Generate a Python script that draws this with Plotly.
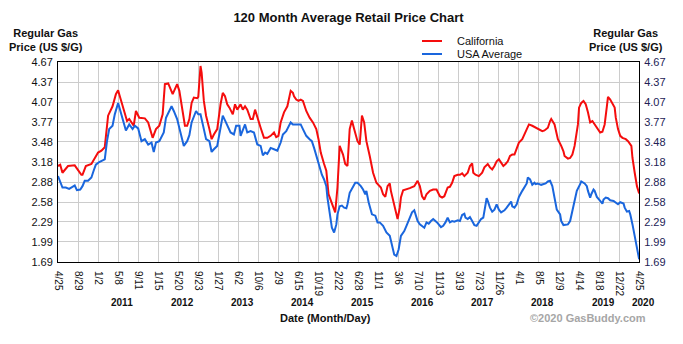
import numpy as np
import pandas as pd
import plotly.graph_objects as go

START = "2010-04-25"
END = "2020-04-25"

# weeks since 2010-04-25 and average regular gas price ($/gal)
ca_week = [0, 2, 4, 9, 15, 21, 22, 25, 30, 33, 36, 39, 42, 45, 47, 49, 52, 54, 55, 58, 60, 62, 64, 68, 70, 73, 78, 81, 85, 88, 91, 94, 96, 99, 103, 107, 109, 112, 114, 116, 118, 120, 122, 125, 126, 128, 129, 131, 133, 136, 138, 140, 143, 146, 148, 150, 152, 154, 157, 159, 161, 164, 166, 168, 170, 173, 175, 177, 179, 182, 185, 188, 191, 194, 196, 198, 200, 203, 206, 209, 211, 212, 214, 216, 218, 220, 223, 226, 229, 232, 234, 236, 239, 241, 243, 245, 247, 249, 251, 253, 256, 258, 260, 262, 264, 266, 269, 271, 273, 275, 277, 280, 283, 286, 288, 290, 292, 294, 296, 298, 299, 301, 303, 305, 307, 308, 310, 313, 316, 320, 323, 325, 327, 329, 331, 334, 337, 340, 343, 345, 347, 350, 352, 354, 356, 359, 361, 363, 365, 368, 370, 372, 373, 375, 378, 381, 383, 386, 388, 390, 392, 394, 396, 398, 400, 402, 404, 406, 408, 410, 412, 414, 417, 419, 421, 423, 426, 429, 432, 435, 437, 440, 442, 443, 446, 447, 449, 452, 454, 455, 458, 460, 462, 464, 467, 468, 470, 472, 474, 476, 478, 480, 482, 483, 485, 487, 489, 491, 493, 494, 496, 498, 500, 501, 503, 505, 507, 510, 512, 515, 516, 518, 519, 520, 522]
ca_price = [3.12, 3.14, 3.02, 3.12, 3.13, 2.99, 2.99, 3.12, 3.15, 3.24, 3.32, 3.35, 3.40, 3.87, 3.94, 4.01, 4.19, 4.25, 4.19, 4.01, 3.89, 3.79, 3.82, 3.72, 3.94, 3.84, 3.83, 3.77, 3.54, 3.67, 3.72, 3.89, 4.34, 4.35, 4.19, 4.34, 4.24, 3.89, 3.72, 3.72, 3.82, 4.06, 4.14, 4.13, 4.15, 4.61, 4.51, 4.09, 3.87, 3.67, 3.52, 3.59, 3.67, 4.04, 4.21, 4.16, 4.04, 3.99, 3.89, 4.04, 3.96, 4.04, 3.96, 4.01, 3.96, 3.82, 3.82, 3.96, 3.84, 3.69, 3.54, 3.54, 3.57, 3.62, 3.55, 3.57, 3.77, 3.92, 4.01, 4.24, 4.21, 4.16, 4.11, 4.09, 4.11, 4.09, 3.94, 3.84, 3.77, 3.67, 3.52, 3.32, 3.15, 3.05, 2.70, 2.62, 2.52, 2.43, 2.80, 3.42, 3.29, 3.15, 3.12, 3.67, 3.80, 3.67, 3.49, 3.44, 3.87, 3.77, 3.49, 3.27, 3.02, 2.87, 2.84, 2.80, 2.70, 2.66, 2.82, 2.86, 2.75, 2.60, 2.45, 2.33, 2.50, 2.65, 2.76, 2.77, 2.79, 2.82, 2.90, 2.82, 2.67, 2.62, 2.70, 2.75, 2.77, 2.77, 2.67, 2.65, 2.67, 2.80, 2.81, 2.87, 2.97, 2.99, 2.99, 3.01, 2.97, 3.02, 3.12, 3.16, 3.02, 2.99, 2.97, 3.02, 3.10, 3.15, 3.10, 3.07, 3.12, 3.19, 3.22, 3.17, 3.12, 3.15, 3.19, 3.27, 3.29, 3.29, 3.39, 3.47, 3.52, 3.59, 3.67, 3.74, 3.72, 3.69, 3.67, 3.64, 3.65, 3.69, 3.79, 3.82, 3.74, 3.67, 3.52, 3.42, 3.34, 3.27, 3.23, 3.24, 3.29, 3.42, 3.74, 3.99, 4.06, 4.09, 4.04, 3.92, 3.77, 3.79, 3.74, 3.72, 3.67, 3.62, 3.63, 3.74, 4.01, 4.15, 4.11, 4.04, 3.99, 3.84, 3.67, 3.57, 3.54, 3.52, 3.49, 3.42, 3.24, 3.02, 2.92, 2.82, 2.71]

usa_week = [0, 1, 4, 7, 10, 13, 15, 17, 20, 22, 24, 27, 30, 32, 34, 37, 42, 44, 46, 49, 51, 54, 57, 61, 64, 67, 69, 72, 75, 78, 81, 84, 86, 88, 91, 95, 97, 102, 104, 107, 110, 113, 116, 118, 120, 122, 124, 126, 128, 131, 133, 136, 138, 140, 143, 146, 148, 150, 152, 155, 158, 160, 163, 164, 168, 170, 173, 176, 179, 182, 184, 186, 188, 191, 194, 197, 200, 202, 205, 209, 211, 214, 217, 218, 220, 223, 226, 228, 230, 232, 235, 237, 239, 241, 242, 244, 246, 248, 250, 251, 253, 255, 257, 259, 260, 262, 265, 267, 269, 272, 274, 276, 277, 279, 282, 285, 287, 289, 292, 295, 298, 300, 302, 304, 306, 308, 311, 313, 316, 318, 320, 321, 323, 325, 327, 329, 331, 333, 335, 337, 339, 341, 344, 346, 348, 350, 352, 354, 356, 359, 361, 363, 365, 366, 368, 370, 372, 374, 376, 378, 380, 382, 384, 385, 386, 388, 390, 392, 394, 396, 398, 401, 403, 405, 407, 408, 410, 412, 414, 417, 419, 421, 422, 424, 426, 428, 429, 431, 434, 436, 438, 440, 442, 444, 446, 448, 451, 452, 454, 456, 458, 460, 462, 464, 466, 469, 470, 473, 475, 476, 478, 479, 481, 482, 484, 487, 489, 490, 492, 494, 496, 499, 501, 503, 505, 508, 509, 511, 513, 514, 516, 518, 520, 521, 522]
usa_price = [2.97, 2.92, 2.80, 2.80, 2.78, 2.81, 2.83, 2.76, 2.77, 2.82, 2.90, 2.90, 2.95, 3.05, 3.14, 3.18, 3.22, 3.49, 3.67, 3.72, 3.89, 4.06, 3.87, 3.65, 3.74, 3.67, 3.72, 3.68, 3.49, 3.52, 3.44, 3.47, 3.33, 3.47, 3.49, 3.62, 3.84, 4.01, 3.94, 3.82, 3.62, 3.42, 3.49, 3.58, 3.77, 3.87, 3.94, 3.89, 3.89, 3.67, 3.52, 3.49, 3.33, 3.37, 3.42, 3.69, 3.87, 3.80, 3.72, 3.62, 3.59, 3.72, 3.72, 3.57, 3.74, 3.62, 3.64, 3.62, 3.44, 3.42, 3.28, 3.32, 3.30, 3.39, 3.37, 3.35, 3.47, 3.59, 3.64, 3.77, 3.74, 3.74, 3.75, 3.74, 3.67, 3.57, 3.52, 3.49, 3.39, 3.27, 3.10, 2.99, 2.92, 2.82, 2.65, 2.40, 2.20, 2.13, 2.25, 2.40, 2.52, 2.53, 2.50, 2.49, 2.55, 2.72, 2.82, 2.87, 2.87, 2.82, 2.77, 2.70, 2.75, 2.58, 2.40, 2.38, 2.28, 2.28, 2.23, 2.13, 2.08, 1.93, 1.80, 1.78, 1.88, 2.08, 2.15, 2.23, 2.35, 2.43, 2.46, 2.40, 2.30, 2.25, 2.23, 2.20, 2.28, 2.26, 2.30, 2.33, 2.30, 2.27, 2.21, 2.23, 2.28, 2.35, 2.28, 2.30, 2.29, 2.31, 2.30, 2.39, 2.41, 2.35, 2.33, 2.36, 2.30, 2.24, 2.23, 2.29, 2.33, 2.35, 2.55, 2.64, 2.60, 2.50, 2.44, 2.47, 2.55, 2.47, 2.43, 2.46, 2.50, 2.55, 2.59, 2.52, 2.50, 2.55, 2.66, 2.75, 2.81, 2.86, 2.95, 2.92, 2.84, 2.87, 2.85, 2.86, 2.84, 2.85, 2.86, 2.89, 2.90, 2.82, 2.65, 2.47, 2.40, 2.30, 2.24, 2.24, 2.25, 2.30, 2.45, 2.58, 2.75, 2.85, 2.89, 2.86, 2.82, 2.75, 2.65, 2.70, 2.77, 2.75, 2.66, 2.60, 2.56, 2.62, 2.65, 2.64, 2.61, 2.60, 2.58, 2.55, 2.58, 2.56, 2.50, 2.44, 2.45, 2.40, 2.25, 2.08, 1.88, 1.78, 1.73]

tick_dates = ["2010-04-25", "2010-08-29", "2011-01-02", "2011-05-08", "2011-09-11", "2012-01-15",
              "2012-05-20", "2012-09-23", "2013-01-27", "2013-06-02", "2013-10-06", "2014-02-09",
              "2014-06-15", "2014-10-19", "2015-02-22", "2015-06-28", "2015-11-01", "2016-03-06",
              "2016-07-10", "2016-11-13", "2017-03-19", "2017-07-23", "2017-11-26", "2018-04-01",
              "2018-08-05", "2018-12-09", "2019-04-14", "2019-08-18", "2019-12-22", "2020-04-25"]
tick_text = ["4/25", "8/29", "1/2", "5/8", "9/11", "1/15", "5/20", "9/23", "1/27", "6/2", "10/6",
             "2/9", "6/15", "10/19", "2/22", "6/28", "11/1", "3/6", "7/10", "11/13", "3/19", "7/23",
             "11/26", "4/1", "8/5", "12/9", "4/14", "8/18", "12/22", "4/25"]
year_labels = ["2011", "2012", "2013", "2014", "2015", "2016", "2017", "2018", "2019", "2020"]
year_dates = ["2011-05-08", "2012-05-20", "2013-06-02", "2014-06-15", "2015-06-28",
              "2016-07-10", "2017-07-23", "2018-08-05", "2019-08-18", "2020-04-25"]
y_ticks = [1.69, 1.99, 2.29, 2.58, 2.88, 3.18, 3.48, 3.77, 4.07, 4.37, 4.67]

start = pd.Timestamp(START)


def to_dates(weeks):
    return [(start + pd.Timedelta(days=7 * w)).strftime("%Y-%m-%d") for w in weeks]


RED = "#f50d0d"
BLUE = "#1a66dd"
FONT = "Liberation Sans, Arial, sans-serif"

fig = go.Figure()
fig.add_trace(go.Scatter(x=to_dates(ca_week), y=ca_price, mode="lines", name="California",
                         line=dict(color=RED, width=2), showlegend=False))
fig.add_trace(go.Scatter(x=to_dates(usa_week), y=usa_price, mode="lines", name="USA Average",
                         line=dict(color=BLUE, width=2), showlegend=False))
fig.add_trace(go.Scatter(x=[START], y=[y_ticks[0]], yaxis="y2", mode="markers",
                         marker=dict(opacity=0), showlegend=False, hoverinfo="skip"))

W, H = 683, 344
L, R, T, B = 58, 44, 62, 82
pw, ph = W - L - R, H - T - B


def px(xp):
    return (xp - L) / pw


def py(yp):
    return (H - B - yp) / ph


fig.update_layout(
    width=W, height=H,
    margin=dict(l=L, r=R, t=T, b=B),
    paper_bgcolor="white", plot_bgcolor="white",
    font=dict(family=FONT, size=11, color="#111"),
    title=dict(text="<b>120 Month Average Retail Price Chart</b>", x=0.5, xref="paper",
               y=1 - 17 / H, yref="container", yanchor="middle", xanchor="center",
               font=dict(size=13, color="#111", family=FONT)),
    xaxis=dict(type="date", range=[START, END], tickmode="array", tickvals=tick_dates,
               ticktext=tick_text, tickangle=90, tickfont=dict(size=10, color="#111"),
               showgrid=True, gridcolor="#cccccc", gridwidth=1,
               showline=True, linecolor="black", linewidth=1, mirror=True,
               ticks="outside", ticklen=6, tickcolor="rgba(0,0,0,0)", zeroline=False),
    yaxis=dict(range=[1.69, 4.67], tickmode="array", tickvals=y_ticks,
               ticktext=[f"{v:.2f}" for v in y_ticks], tickfont=dict(size=11, color="#111"),
               showgrid=True, gridcolor="#cccccc", gridwidth=1,
               showline=True, linecolor="black", linewidth=1, mirror=True,
               ticks="outside", ticklen=2, tickcolor="rgba(0,0,0,0)", zeroline=False),
    yaxis2=dict(range=[1.69, 4.67], overlaying="y", side="right", tickmode="array",
                tickvals=y_ticks, ticktext=[f"{v:.2f}" for v in y_ticks],
                tickfont=dict(size=11, color="#222255"), showgrid=False, zeroline=False,
                ticks="outside", ticklen=2, tickcolor="rgba(0,0,0,0)", showline=False),
)

ann = []
for xpos in (46, 626):
    ann.append(dict(text="<b>Regular Gas</b><br><b>Price (US $/G)</b>", x=px(xpos), y=py(40),
                    xref="paper", yref="paper", showarrow=False, xanchor="center",
                    yanchor="middle", font=dict(size=11, color="#111")))
for lbl, d in zip(year_labels, year_dates):
    ann.append(dict(text=f"<b>{lbl}</b>", x=d, y=py(302), xref="x", yref="paper",
                    showarrow=False, xanchor="center", yanchor="middle", xshift=4,
                    font=dict(size=10, color="#111")))
ann.append(dict(text="<b>Date (Month/Day)</b>", x=px(325), y=py(318), xref="paper", yref="paper",
                showarrow=False, xanchor="center", yanchor="middle", font=dict(size=11, color="#111")))
ann.append(dict(text="<b>©2020 GasBuddy.com</b>", x=px(648), y=py(318), xref="paper", yref="paper",
                showarrow=False, xanchor="right", yanchor="middle",
                font=dict(size=11, color="#a6a6a6")))

shapes = []
for name, color, yl in (("California", RED, 41), ("USA Average", BLUE, 54)):
    shapes.append(dict(type="line", xref="paper", yref="paper", x0=px(422), x1=px(442),
                       y0=py(yl), y1=py(yl), line=dict(color=color, width=2)))
    ann.append(dict(text=name, x=px(455), y=py(yl), xref="paper", yref="paper", showarrow=False,
                    xanchor="left", yanchor="middle", font=dict(size=11, color="#111")))

fig.update_layout(annotations=ann, shapes=shapes)
fig.write_html("out.html")
